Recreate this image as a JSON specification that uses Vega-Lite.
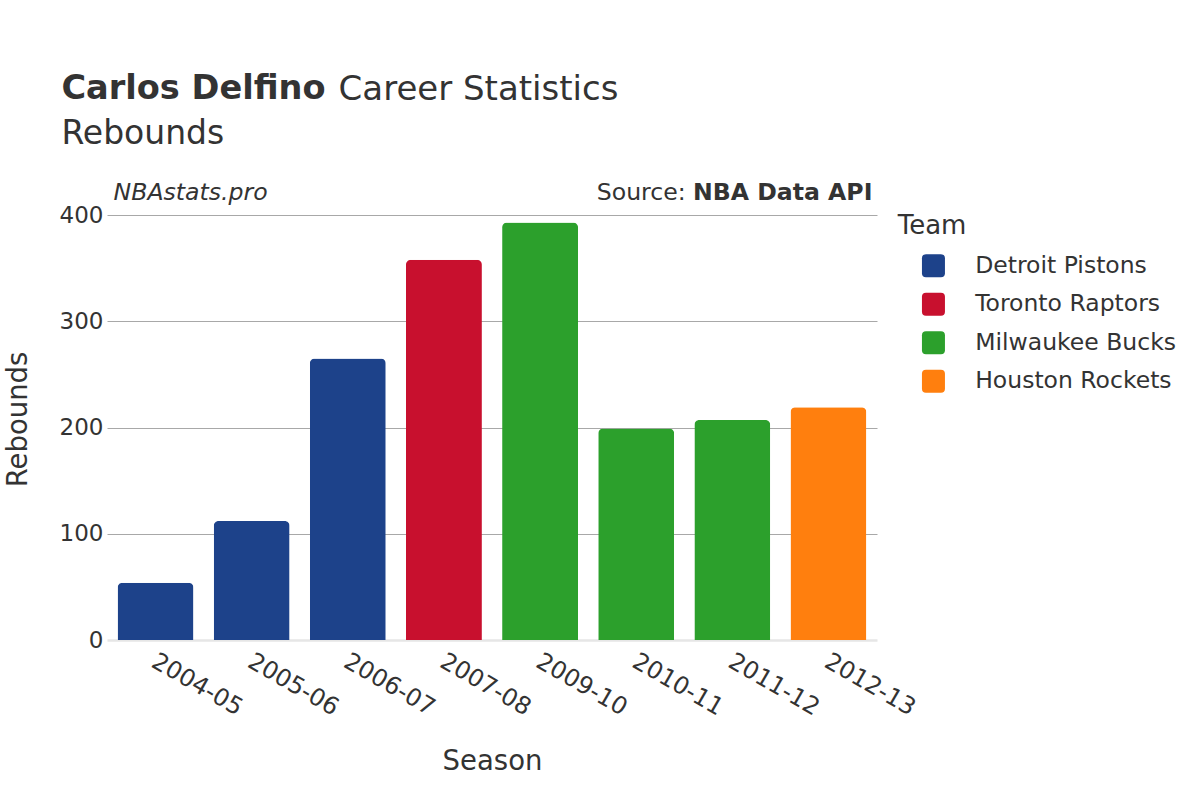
{
  "$schema": "https://vega.github.io/schema/vega-lite/v6.json",
  "autosize": {"type": "none"},
  "width": 770,
  "height": 425,
  "padding": {"left": 107, "top": 215, "right": 323, "bottom": 160},
  "background": "white",
  "title": {
    "text": "Carlos Delfino",
    "subtitle": "Rebounds",
    "anchor": "start",
    "frame": "group",
    "dx": -45.6,
    "offset": -78,
    "fontSize": 33.6,
    "fontWeight": "bold",
    "color": "#333333",
    "subtitleFontSize": 33,
    "subtitleFontWeight": "normal",
    "subtitleColor": "#333333",
    "subtitlePadding": 12,
    "font": "DejaVu Sans",
    "subtitleFont": "DejaVu Sans"
  },
  "config": {
    "font": "DejaVu Sans",
    "view": {"stroke": null}
  },
  "data": {
    "values": [
      {"season": "2004-05", "team": "Detroit Pistons", "rebounds": 54},
      {"season": "2005-06", "team": "Detroit Pistons", "rebounds": 112},
      {"season": "2006-07", "team": "Detroit Pistons", "rebounds": 265},
      {"season": "2007-08", "team": "Toronto Raptors", "rebounds": 358},
      {"season": "2009-10", "team": "Milwaukee Bucks", "rebounds": 393},
      {"season": "2010-11", "team": "Milwaukee Bucks", "rebounds": 199},
      {"season": "2011-12", "team": "Milwaukee Bucks", "rebounds": 207},
      {"season": "2012-13", "team": "Houston Rockets", "rebounds": 219}
    ]
  },
  "layer": [
    {
      "mark": {"type": "bar", "cornerRadiusTopLeft": 5, "cornerRadiusTopRight": 5},
      "encoding": {
        "x": {
          "field": "season",
          "type": "nominal",
          "sort": null,
          "scale": {"paddingInner": 0.21, "paddingOuter": 0.11},
          "axis": {
            "title": "Season",
            "titleFontSize": 27.5,
            "titleFontWeight": "normal",
            "titleColor": "#333333",
            "titlePadding": 28,
            "labelAngle": 30,
            "labelAlign": "left",
            "labelBaseline": "top",
            "labelPadding": 9,
            "labelOffset": 4,
            "labelFontSize": 24,
            "labelColor": "#333333",
            "ticks": false,
            "domain": false
          }
        },
        "y": {
          "field": "rebounds",
          "type": "quantitative",
          "scale": {"domain": [0, 400], "nice": false},
          "axis": {
            "title": "Rebounds",
            "titleFontSize": 27.5,
            "titleFontWeight": "normal",
            "titleColor": "#333333",
            "titlePadding": 27,
            "titleY": 204,
            "values": [0, 100, 200, 300, 400],
            "labelFontSize": 23,
            "labelColor": "#333333",
            "labelPadding": 4,
            "ticks": false,
            "domain": false,
            "gridColor": {"condition": {"test": "datum.value === 0", "value": "#e6e6e6"}, "value": "#a8a8a8"},
            "gridWidth": {"condition": {"test": "datum.value === 0", "value": 2.5}, "value": 1}
          }
        },
        "color": {
          "field": "team",
          "type": "nominal",
          "scale": {
            "domain": ["Detroit Pistons", "Toronto Raptors", "Milwaukee Bucks", "Houston Rockets"],
            "range": ["#1d428a", "#c8102e", "#2ca02c", "#ff7f0e"]
          },
          "legend": {
            "title": "Team",
            "orient": "none",
            "legendX": 790.7,
            "legendY": -2,
            "padding": 0,
            "titleFontSize": 26,
            "titleFontWeight": "normal",
            "titleColor": "#333333",
            "titlePadding": 15,
            "labelFontSize": 23.5,
            "labelColor": "#333333",
            "labelLimit": 400,
            "labelOffset": 30,
            "symbolType": "M -0.65 -1 L 0.65 -1 Q 1 -1 1 -0.65 L 1 0.65 Q 1 1 0.65 1 L -0.65 1 Q -1 1 -1 0.65 L -1 -0.65 Q -1 -1 -0.65 -1 Z",
            "symbolSize": 529,
            "symbolOffset": 24,
            "symbolStrokeWidth": 0,
            "rowPadding": 13.5
          }
        }
      }
    },
    {
      "data": {"values": [{"t": "NBAstats.pro"}]},
      "mark": {"type": "text", "align": "left", "baseline": "alphabetic", "fontStyle": "italic", "fontSize": 23.6, "color": "#333333", "dx": -4, "dy": -15},
      "encoding": {
        "text": {"field": "t"},
        "x": {"datum": "2004-05", "type": "nominal", "bandPosition": 0},
        "y": {"datum": 400, "type": "quantitative"}
      }
    },
    {
      "data": {"values": [{"t": "NBA Data API"}]},
      "mark": {"type": "text", "align": "right", "baseline": "alphabetic", "fontWeight": "bold", "fontSize": 23.6, "color": "#333333", "dx": 6, "dy": -15},
      "encoding": {
        "text": {"field": "t"},
        "x": {"datum": "2012-13", "type": "nominal", "bandPosition": 1},
        "y": {"datum": 400, "type": "quantitative"}
      }
    },
    {
      "data": {"values": [{"t": "Source:"}]},
      "mark": {"type": "text", "align": "right", "baseline": "alphabetic", "fontSize": 23.6, "color": "#333333", "dx": -180.7, "dy": -15},
      "encoding": {
        "text": {"field": "t"},
        "x": {"datum": "2012-13", "type": "nominal", "bandPosition": 1},
        "y": {"datum": 400, "type": "quantitative"}
      }
    },
    {
      "data": {"values": [{"t": "Career Statistics"}]},
      "mark": {"type": "text", "align": "left", "baseline": "alphabetic", "fontSize": 34, "color": "#333333", "dx": 221, "dy": -115},
      "encoding": {
        "text": {"field": "t"},
        "x": {"datum": "2004-05", "type": "nominal", "bandPosition": 0},
        "y": {"datum": 400, "type": "quantitative"}
      }
    }
  ]
}
